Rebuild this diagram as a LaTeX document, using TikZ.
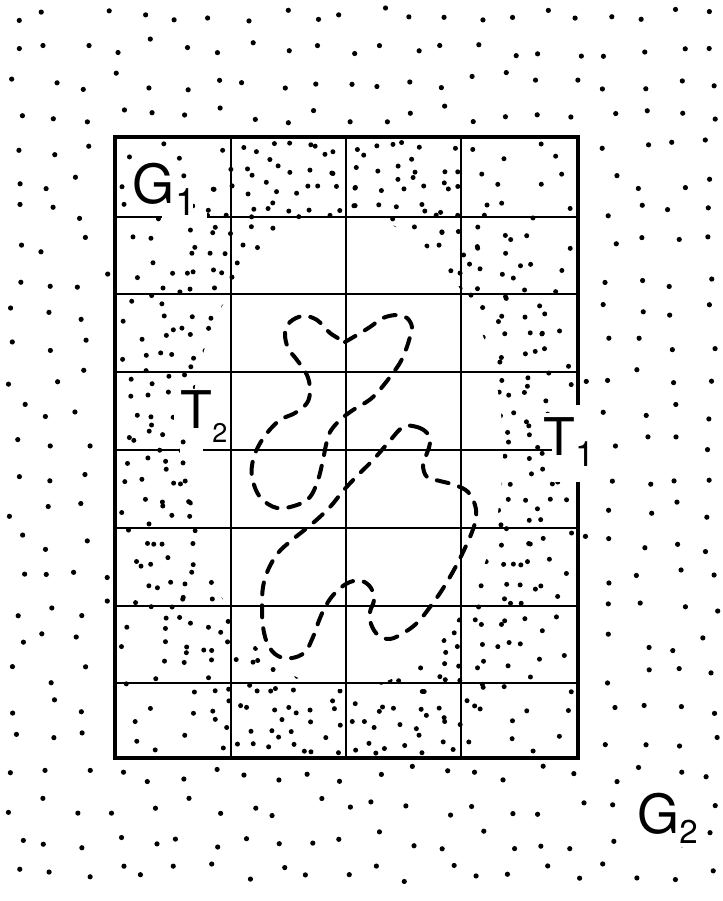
\documentclass[tikz,border=0pt]{standalone}
\usepackage{fontspec}
\setmainfont{TeX Gyre Heros}
\begin{document}
\begin{tikzpicture}[x=1pt,y=-1pt,
  gridline/.style={line width=2.2pt},
  borderline/.style={line width=3.8pt},
  dashcurve/.style={line width=4pt, line cap=round, dash pattern=on 12pt off 11pt},
  dotmark/.style={fill=black},
  lab/.style={inner sep=0pt, anchor=base}]
\useasboundingbox (0,0) rectangle (722,901);
\pgfmathsetseed{4242}
% outer sparse dots (G2)
\foreach \i in {0,...,21}{\foreach \j in {0,...,26}{
  \pgfmathsetmacro\px{(\i+0.5)*33+9*rand}
  \pgfmathsetmacro\py{(\j+0.45)*33+9*rand}
  \pgfmathtruncatemacro\ok{(((\px<108)||(\px>585)||(\py<130)||(\py>765)) && (\px>4) && (\px<718) && (\py>6) && (\py<896)) ? 1 : 0}
  \ifnum\ok=1 \fill[dotmark] (\px,\py) circle[radius=2.6pt]; \fi
}}
% inner dots: sparse layer over the whole grid (deterministic jitter)
\foreach \a in {0,...,15}{\foreach \b in {0,...,20}{
  \pgfmathsetmacro\qx{115+(\a+0.5)*28.94+8*sin(\a*137.5+\b*291.3)}
  \pgfmathsetmacro\qy{137+(\b+0.5)*29.57+8*sin(\a*223.1+\b*97.7+40)}
  \fill[dotmark] (\qx,\qy) circle[radius=2.5pt];
}}
% inner dots: extra layer in the ring round the white region
\begin{scope}
\clip (116,138) rectangle (577,757);
\foreach \i in {0,...,21}{\foreach \j in {0,...,29}{
  \pgfmathsetmacro\px{115+(\i+0.5)*21.05+6*rand}
  \pgfmathsetmacro\py{137+(\j+0.5)*20.7+6*rand}
  \pgfmathsetmacro\dd{((\px-346)/152)*((\px-346)/152)+((\py-452)/230)*((\py-452)/230)}
  \ifdim\dd pt<2.1pt \fill[dotmark] (\px,\py) circle[radius=2.5pt]; \fi
}}
\end{scope}
% the white central region (free of dots)
\fill[white] (346,452) ellipse[x radius=157, y radius=237];
% grid
\foreach \x in {231,346,461} \draw[gridline] (\x,137) -- (\x,758);
\foreach \y in {217,294,372,450,528,606,683} \draw[gridline] (115,\y) -- (578,\y);
\draw[borderline] (115,137) rectangle (578,758);
% gaps in the lines
\fill[white] (162,213) rectangle (207,221);
\fill[white] (180,446) rectangle (203,454);
\fill[white] (552,405) rectangle (592,482);
% clear areas behind the labels
\fill[white] (129,160) rectangle (176,209);
\fill[white] (176,185) rectangle (193,214);
\fill[white] (174,389) rectangle (215,431);
\fill[white] (206,420) rectangle (229,446);
\fill[white] (542,413) rectangle (592,447);
\fill[white] (634,788) rectangle (700,847);
% dashed curves
\draw[dashcurve] plot[smooth, tension=0.6] coordinates {
 (345,342) (357,335) (370,327) (383,318) (397,315) (407,318) (412,327) (410,337)
 (403,357) (393,373) (373,397) (353,410) (340,420) (330,432) (326,445) (323,460)
 (318,480) (310,497) (297,505) (277,508) (260,497) (252,477) (253,460) (258,447)
 (267,433) (280,420) (295,413) (307,403) (310,390) (307,375) (297,360) (288,348)
 (285,333) (290,322) (303,316) (317,320) (330,333) (345,342)};
\draw[dashcurve] plot[smooth cycle, tension=0.6] coordinates {
 (403,427) (417,427) (427,433) (430,443) (427,453) (423,465) (427,477) (440,481)
 (455,485) (468,492) (475,505) (476,518) (472,532) (465,548) (455,568) (442,590)
 (430,607) (418,622) (405,632) (390,639) (378,635) (371,624) (370,612) (374,600)
 (371,588) (362,581) (350,582) (338,590) (328,602) (320,618) (313,637) (305,652)
 (292,658) (278,656) (268,645) (263,627) (262,607) (263,587) (268,570) (278,553)
 (292,540) (313,523) (330,507) (343,491) (357,476) (373,460) (388,443)};
% labels
\node[lab, font=\fontsize{54}{54}\selectfont] (g1) at (153.5,204) {G};
\node[lab, font=\fontsize{38}{38}\selectfont] (g1s) at (186,215) {1};
\node[lab, font=\fontsize{52}{52}\selectfont] (t2) at (196,428) {T};
\node[lab, font=\fontsize{27}{27}\selectfont] (t2s) at (220,442) {2};
\node[lab, font=\fontsize{52}{52}\selectfont] (t1) at (559,455) {T};
\node[lab, font=\fontsize{35}{35}\selectfont] (t1s) at (585,466) {1};
\node[lab, font=\fontsize{54}{54}\selectfont] (g2) at (658,833) {G};
\node[lab, font=\fontsize{33}{33}\selectfont] (g2s) at (688.5,843) {2};
\end{tikzpicture}
\end{document}
